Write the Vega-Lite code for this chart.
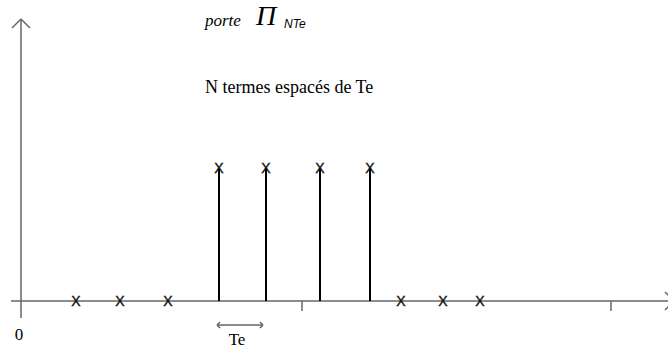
{
  "$schema": "https://vega.github.io/schema/vega-lite/v6.json",
  "width": 668,
  "height": 349,
  "autosize": {"type": "none"},
  "padding": 0,
  "background": "white",
  "config": {"view": {"stroke": null}},
  "datasets": {
    "axes": [
      {"t": -0.2, "v": 0, "t2": 13.06, "v2": 0},
      {"t": 0, "v": 2.12, "t2": 0, "v2": -0.128},
      {"t": -0.18, "v": 2.053, "t2": 0, "v2": 2.12},
      {"t": 0.18, "v": 2.053, "t2": 0, "v2": 2.12},
      {"t": 12.88, "v": 0.068, "t2": 13.06, "v2": 0},
      {"t": 12.88, "v": -0.068, "t2": 13.06, "v2": 0},
      {"t": 5.62, "v": 0, "t2": 5.62, "v2": -0.075},
      {"t": 11.8, "v": 0, "t2": 11.8, "v2": -0.075},
      {"t": 3.92, "v": -0.18, "t2": 4.84, "v2": -0.18},
      {"t": 3.98, "v": -0.158, "t2": 3.92, "v2": -0.18},
      {"t": 3.98, "v": -0.203, "t2": 3.92, "v2": -0.18},
      {"t": 4.78, "v": -0.158, "t2": 4.84, "v2": -0.18},
      {"t": 4.78, "v": -0.203, "t2": 4.84, "v2": -0.18}
    ],
    "samples": [
      {"t": 1.1, "v": 0},
      {"t": 1.98, "v": 0},
      {"t": 2.94, "v": 0},
      {"t": 3.96, "v": 1},
      {"t": 4.9, "v": 1},
      {"t": 5.98, "v": 1},
      {"t": 6.98, "v": 1},
      {"t": 7.6, "v": 0},
      {"t": 8.44, "v": 0},
      {"t": 9.18, "v": 0}
    ]
  },
  "encoding": {
    "x": {"field": "t", "type": "quantitative", "axis": null,
          "scale": {"domain": [-0.42, 12.94], "nice": false, "zero": false}},
    "y": {"field": "v", "type": "quantitative", "axis": null,
          "scale": {"domain": [-0.361, 2.263], "nice": false, "zero": false}}
  },
  "layer": [
    {
      "data": {"name": "axes"},
      "mark": {"type": "rule", "color": "#666666", "strokeWidth": 1.5},
      "encoding": {
        "x2": {"field": "t2"},
        "y2": {"field": "v2"}
      }
    },
    {
      "data": {"name": "samples"},
      "transform": [{"filter": "datum.v > 0"}],
      "mark": {"type": "rule", "color": "#000000", "strokeWidth": 2},
      "encoding": {
        "y2": {"datum": 0}
      }
    },
    {
      "data": {"name": "samples"},
      "mark": {"type": "text", "text": "X", "font": "Liberation Sans", "fontSize": 14,
               "align": "center", "baseline": "middle", "dy": 1.5,
               "color": "#111111", "stroke": "#111111", "strokeWidth": 0.4}
    },
    {
      "data": {"values": [{"t": 3.68, "v": 1.564, "label": "N termes espacés de Te"}]},
      "mark": {"type": "text", "font": "Liberation Serif", "fontSize": 18,
               "align": "left", "baseline": "alphabetic", "color": "#000000"},
      "encoding": {"text": {"field": "label"}}
    },
    {
      "data": {"values": [
        {"t": -0.04, "v": -0.293, "label": "0"},
        {"t": 4.32, "v": -0.331, "label": "Te"}
      ]},
      "mark": {"type": "text", "font": "Liberation Serif", "fontSize": 17,
               "align": "center", "baseline": "alphabetic", "color": "#000000"},
      "encoding": {"text": {"field": "label"}}
    },
    {
      "data": {"values": [{"t": 3.68, "v": 2.068, "label": "porte"}]},
      "mark": {"type": "text", "font": "Liberation Serif", "fontStyle": "italic", "fontSize": 17,
               "align": "left", "baseline": "alphabetic", "color": "#000000"},
      "encoding": {"text": {"field": "label"}}
    },
    {
      "data": {"values": [{"t": 4.7, "v": 2.075, "label": "Π"}]},
      "mark": {"type": "text", "font": "Liberation Serif", "fontStyle": "italic", "fontSize": 28,
               "align": "left", "baseline": "alphabetic", "color": "#000000"},
      "encoding": {"text": {"field": "label"}}
    },
    {
      "data": {"values": [{"t": 5.26, "v": 2.053, "label": "NTe"}]},
      "mark": {"type": "text", "font": "Liberation Sans", "fontStyle": "italic", "fontSize": 12,
               "align": "left", "baseline": "alphabetic", "color": "#000000"},
      "encoding": {"text": {"field": "label"}}
    }
  ]
}
